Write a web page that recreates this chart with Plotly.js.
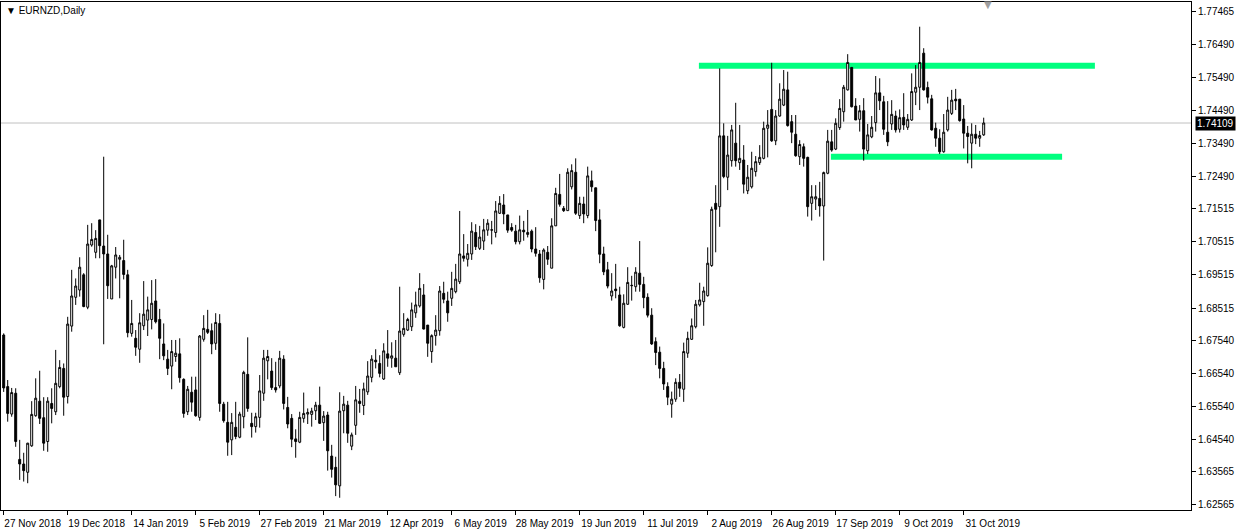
<!DOCTYPE html>
<html>
<head>
<meta charset="utf-8">
<script src="https://cdn.plot.ly/plotly-3.0.1.min.js"></script>
<style>html,body{margin:0;padding:0;background:#fff;}#chart{width:1238px;height:529px;}</style>
</head>
<body>
<div id="chart"></div>
<script>
// ---- data ----
const symbolTitle = "\u25BC EURNZD,Daily";
const firstDay = "2018-11-27";
const marketHolidays = ["2018-12-25", "2019-01-01"];
const barCount = 246;

const open = [
1.6770,1.6614,1.6531,1.6594,1.6394,1.6380,1.6355,1.6435,1.6526,1.6570,
1.6520,1.6448,1.6563,1.6538,1.6614,1.6669,1.6584,1.6797,1.6884,1.6906,
1.6952,1.6854,1.7042,1.7020,1.7118,1.7039,1.7015,1.6879,1.6975,1.6999,
1.6995,1.6952,1.6775,1.6760,1.6727,1.6798,1.6815,1.6817,1.6873,1.6817,
1.6743,1.6697,1.6676,1.6705,1.6713,1.6636,1.6538,1.6597,1.6604,1.6521,
1.6757,1.6787,1.6783,1.6745,1.6805,1.6561,1.6506,1.6453,1.6491,1.6461,
1.6523,1.6651,1.6503,1.6493,1.6521,1.6594,1.6692,1.6661,1.6611,1.6616,
1.6697,1.6551,1.6518,1.6456,1.6446,1.6518,1.6531,1.6530,1.6541,1.6558,
1.6505,1.6528,1.6404,1.6370,1.6314,1.6541,1.6558,1.6434,1.6497,1.6570,
1.6557,1.6598,1.6642,1.6694,1.6684,1.6637,1.6713,1.6700,1.6700,1.6656,
1.6772,1.6785,1.6795,1.6837,1.6858,1.6891,1.6800,1.6720,1.6768,1.6783,
1.6896,1.6873,1.6881,1.6901,1.6931,1.7009,1.6999,1.7015,1.7080,1.7032,
1.7054,1.7087,1.7087,1.7080,1.7138,1.7163,1.7133,1.7095,1.7084,1.7052,
1.7087,1.7074,1.7084,1.7030,1.7015,1.6938,1.7020,1.6972,1.7100,1.7195,
1.7153,1.7146,1.7218,1.7262,1.7131,1.7166,1.7131,1.7236,1.7215,1.7118,
1.7015,1.6967,1.6888,1.6909,1.6891,1.6793,1.6863,1.6919,1.6916,1.6957,
1.6923,1.6884,1.6830,1.6750,1.6718,1.6669,1.6614,1.6561,1.6576,1.6627,
1.6606,1.6715,1.6757,1.6795,1.6861,1.6871,1.6889,1.6980,1.7168,1.7158,
1.7372,1.7247,1.7297,1.7350,1.7291,1.7299,1.7206,1.7218,1.7264,1.7291,
1.7304,1.7395,1.7452,1.7357,1.7432,1.7465,1.7511,1.7415,1.7377,1.7309,
1.7339,1.7307,1.7168,1.7181,1.7183,1.7160,1.7259,1.7354,1.7332,1.7397,
1.7445,1.7511,1.7579,1.7462,1.7422,1.7448,1.7327,1.7369,1.7412,1.7502,
1.7475,1.7383,1.7408,1.7432,1.7392,1.7428,1.7398,1.7420,1.7504,1.7519,
1.7622,1.7518,1.7484,1.7395,1.7365,1.7324,1.7390,1.7440,1.7483,1.7483,
1.7423,1.7380,1.7350,1.7377,1.7365,1.7375
];
const high = [
1.6775,1.6634,1.6610,1.6609,1.6453,1.6414,1.6444,1.6570,1.6639,1.6662,
1.6582,1.6582,1.6609,1.6725,1.6694,1.6684,1.6825,1.6967,1.6941,1.7005,
1.6957,1.7103,1.7108,1.7087,1.7118,1.7309,1.7073,1.6982,1.7036,1.7012,
1.7058,1.6967,1.6876,1.6785,1.6836,1.6933,1.6886,1.6936,1.6939,1.6849,
1.6805,1.6725,1.6755,1.6755,1.6760,1.6639,1.6616,1.6644,1.6644,1.6770,
1.6830,1.6846,1.6805,1.6836,1.6833,1.6568,1.6568,1.6534,1.6568,1.6538,
1.6662,1.6763,1.6535,1.6535,1.6649,1.6725,1.6725,1.6700,1.6689,1.6722,
1.6709,1.6583,1.6531,1.6485,1.6538,1.6596,1.6548,1.6550,1.6568,1.6614,
1.6540,1.6538,1.6438,1.6402,1.6597,1.6586,1.6571,1.6475,1.6616,1.6607,
1.6626,1.6691,1.6709,1.6727,1.6709,1.6745,1.6785,1.6748,1.6755,1.6916,
1.6836,1.6822,1.6868,1.6901,1.6957,1.6924,1.6800,1.6772,1.6830,1.6918,
1.6931,1.6901,1.6961,1.6985,1.7145,1.7075,1.7045,1.7111,1.7105,1.7100,
1.7121,1.7120,1.7115,1.7175,1.7190,1.7196,1.7133,1.7108,1.7103,1.7131,
1.7115,1.7148,1.7089,1.7096,1.7027,1.7032,1.7039,1.7123,1.7215,1.7257,
1.7160,1.7274,1.7286,1.7304,1.7188,1.7188,1.7279,1.7267,1.7215,1.7150,
1.7037,1.6991,1.6957,1.6985,1.6916,1.6893,1.6975,1.6949,1.6975,1.7054,
1.6946,1.6896,1.6851,1.6763,1.6735,1.6689,1.6627,1.6599,1.6639,1.6652,
1.6747,1.6780,1.6820,1.6876,1.6928,1.6916,1.7035,1.7158,1.7223,1.7576,
1.7410,1.7372,1.7405,1.7472,1.7405,1.7344,1.7284,1.7324,1.7311,1.7344,
1.7415,1.7450,1.7593,1.7450,1.7531,1.7571,1.7566,1.7435,1.7435,1.7359,
1.7349,1.7309,1.7223,1.7223,1.7233,1.7264,1.7390,1.7390,1.7425,1.7483,
1.7526,1.7619,1.7579,1.7486,1.7465,1.7486,1.7408,1.7432,1.7553,1.7546,
1.7493,1.7477,1.7480,1.7448,1.7452,1.7501,1.7438,1.7561,1.7586,1.7702,
1.7637,1.7536,1.7496,1.7412,1.7392,1.7438,1.7490,1.7511,1.7514,1.7483,
1.7465,1.7402,1.7410,1.7405,1.7387,1.7427
];
const low = [
1.6598,1.6508,1.6523,1.6432,1.6332,1.6327,1.6322,1.6432,1.6523,1.6501,
1.6420,1.6417,1.6503,1.6528,1.6609,1.6526,1.6563,1.6780,1.6861,1.6886,
1.6854,1.6848,1.7037,1.7002,1.7002,1.6742,1.6879,1.6879,1.6941,1.6881,
1.6938,1.6763,1.6765,1.6707,1.6686,1.6785,1.6767,1.6787,1.6805,1.6697,
1.6694,1.6649,1.6606,1.6689,1.6626,1.6520,1.6528,1.6538,1.6523,1.6511,
1.6750,1.6773,1.6712,1.6725,1.6538,1.6505,1.6405,1.6407,1.6455,1.6458,
1.6488,1.6538,1.6460,1.6475,1.6490,1.6571,1.6636,1.6604,1.6596,1.6609,
1.6545,1.6488,1.6431,1.6399,1.6443,1.6505,1.6501,1.6493,1.6513,1.6501,
1.6450,1.6360,1.6339,1.6283,1.6278,1.6473,1.6444,1.6422,1.6468,1.6535,
1.6528,1.6589,1.6627,1.6669,1.6642,1.6634,1.6674,1.6671,1.6674,1.6649,
1.6765,1.6782,1.6782,1.6822,1.6853,1.6787,1.6704,1.6686,1.6738,1.6768,
1.6866,1.6810,1.6858,1.6896,1.6924,1.6992,1.6977,1.6997,1.7027,1.7027,
1.7027,1.7070,1.7044,1.7065,1.7136,1.7105,1.7079,1.7082,1.7044,1.7044,
1.7055,1.7065,1.7020,1.7007,1.6928,1.6908,1.6982,1.6972,1.7100,1.7158,
1.7142,1.7146,1.7210,1.7133,1.7121,1.7108,1.7123,1.7203,1.7084,1.6987,
1.6951,1.6911,1.6874,1.6881,1.6795,1.6790,1.6861,1.6874,1.6901,1.6901,
1.6851,1.6823,1.6740,1.6679,1.6639,1.6604,1.6558,1.6520,1.6568,1.6583,
1.6568,1.6701,1.6755,1.6790,1.6856,1.6798,1.6886,1.6976,1.7020,1.7097,
1.7244,1.7208,1.7279,1.7279,1.7269,1.7198,1.7196,1.7213,1.7249,1.7284,
1.7301,1.7307,1.7354,1.7344,1.7430,1.7462,1.7400,1.7350,1.7309,1.7284,
1.7279,1.7128,1.7116,1.7148,1.7128,1.6995,1.7256,1.7324,1.7329,1.7390,
1.7415,1.7509,1.7458,1.7420,1.7385,1.7297,1.7317,1.7365,1.7385,1.7450,
1.7375,1.7341,1.7390,1.7382,1.7382,1.7390,1.7390,1.7417,1.7465,1.7450,
1.7509,1.7470,1.7388,1.7339,1.7317,1.7321,1.7385,1.7435,1.7450,1.7415,
1.7334,1.7289,1.7274,1.7347,1.7339,1.7372
];
const close = [
1.6610,1.6533,1.6596,1.6448,1.6380,1.6360,1.6443,1.6530,1.6579,1.6518,
1.6443,1.6570,1.6548,1.6624,1.6672,1.6582,1.6803,1.6888,1.6918,1.6975,
1.6856,1.7045,1.7059,1.7062,1.7040,1.7015,1.6919,1.6979,1.7012,1.7005,
1.6953,1.6777,1.6805,1.6733,1.6807,1.6833,1.6846,1.6866,1.6810,1.6760,
1.6707,1.6669,1.6720,1.6715,1.6641,1.6533,1.6606,1.6567,1.6526,1.6767,
1.6790,1.6778,1.6743,1.6808,1.6563,1.6511,1.6446,1.6506,1.6463,1.6531,
1.6657,1.6548,1.6493,1.6523,1.6601,1.6700,1.6705,1.6611,1.6604,1.6700,
1.6563,1.6501,1.6455,1.6448,1.6521,1.6533,1.6536,1.6540,1.6558,1.6503,
1.6525,1.6420,1.6364,1.6317,1.6540,1.6561,1.6473,1.6468,1.6574,1.6563,
1.6607,1.6646,1.6697,1.6689,1.6654,1.6722,1.6700,1.6707,1.6674,1.6782,
1.6790,1.6817,1.6846,1.6861,1.6911,1.6788,1.6745,1.6768,1.6785,1.6903,
1.6878,1.6837,1.6911,1.6939,1.7015,1.7002,1.7017,1.7084,1.7037,1.7066,
1.7088,1.7108,1.7088,1.7145,1.7168,1.7136,1.7087,1.7087,1.7052,1.7088,
1.7082,1.7080,1.7030,1.7017,1.6943,1.7027,1.6999,1.7100,1.7198,1.7165,
1.7146,1.7262,1.7267,1.7138,1.7168,1.7136,1.7251,1.7218,1.7116,1.7014,
1.6961,1.6918,1.6903,1.6904,1.6798,1.6866,1.6929,1.6920,1.6960,1.6923,
1.6883,1.6830,1.6743,1.6717,1.6669,1.6622,1.6582,1.6576,1.6627,1.6609,
1.6720,1.6760,1.6798,1.6863,1.6876,1.6903,1.6987,1.7150,1.7150,1.7372,
1.7249,1.7314,1.7390,1.7297,1.7304,1.7226,1.7247,1.7274,1.7294,1.7307,
1.7395,1.7405,1.7357,1.7432,1.7483,1.7513,1.7403,1.7383,1.7312,1.7346,
1.7304,1.7158,1.7188,1.7188,1.7160,1.7261,1.7356,1.7329,1.7410,1.7455,
1.7519,1.7594,1.7460,1.7420,1.7448,1.7332,1.7375,1.7398,1.7502,1.7478,
1.7392,1.7354,1.7437,1.7390,1.7427,1.7405,1.7422,1.7506,1.7519,1.7594,
1.7511,1.7489,1.7390,1.7365,1.7324,1.7383,1.7450,1.7480,1.7478,1.7418,
1.7380,1.7370,1.7377,1.7365,1.7373,1.74109
];

const xTickLabels = ["27 Nov 2018","19 Dec 2018","14 Jan 2019","5 Feb 2019","27 Feb 2019","21 Mar 2019",
  "12 Apr 2019","6 May 2019","28 May 2019","19 Jun 2019","11 Jul 2019","2 Aug 2019",
  "26 Aug 2019","17 Sep 2019","9 Oct 2019","31 Oct 2019"];
const yTickValues = [1.77465,1.76490,1.75490,1.74490,1.73490,1.72490,1.71515,1.70515,
  1.69515,1.68515,1.67540,1.66540,1.65540,1.64540,1.63565,1.62565];
const lastPrice = 1.74109;
const resistanceLevel = 1.75841;
const supportLevel = 1.73090;

// ---- trading calendar (weekdays minus market holidays) ----
function tradingDays(start, count, holidays) {
  const out = [];
  const d = new Date(start + "T00:00:00Z");
  while (out.length < count) {
    const wd = d.getUTCDay();
    const s = d.toISOString().slice(0, 10);
    if (wd !== 0 && wd !== 6 && holidays.indexOf(s) < 0) out.push(s);
    d.setUTCDate(d.getUTCDate() + 1);
  }
  return out;
}
const dates = tradingDays(firstDay, barCount, marketHolidays);
const xTickDates = dates.filter((_, i) => i % 16 === 0);

const axisFont = {family: "Liberation Sans, Arial, sans-serif", size: 10, color: "#000"};

const trace = {
  type: "candlestick",
  x: dates, open: open, high: high, low: low, close: close,
  increasing: {line: {color: "#000", width: 1}, fillcolor: "#ffffff"},
  decreasing: {line: {color: "#000", width: 1}, fillcolor: "#000000"},
  whiskerwidth: 0,
  hoverinfo: "skip",
  showlegend: false
};

const layout = {
  width: 1238, height: 529,
  margin: {l: 1, r: 47, t: 2, b: 19, pad: 0},
  paper_bgcolor: "#ffffff", plot_bgcolor: "#ffffff",
  showlegend: false,
  xaxis: {
    type: "category",
    range: [-0.675, 296.825],
    rangeslider: {visible: false},
    showgrid: false, zeroline: false,
    showline: true, linecolor: "#000", linewidth: 1, mirror: true,
    ticks: "outside", ticklen: 4, tickcolor: "#000",
    tickvals: xTickDates, ticktext: xTickLabels,
    ticklabelshift: 29,
    tickfont: axisFont,
    fixedrange: true
  },
  yaxis: {
    side: "right",
    range: [1.62410, 1.77767],
    showgrid: false, zeroline: false,
    showline: true, linecolor: "#000", linewidth: 1, mirror: true,
    ticks: "outside", ticklen: 4, tickcolor: "#000",
    tickvals: yTickValues, tickformat: ".5f",
    tickfont: axisFont,
    fixedrange: true
  },
  shapes: [
    {type: "line", xref: "paper", x0: 0, x1: 1, yref: "y", y0: lastPrice, y1: lastPrice,
     line: {color: "#c0c0c0", width: 1}, layer: "below"},
    {type: "line", xref: "x", x0: 173.8, x1: 272.8, yref: "y", y0: resistanceLevel, y1: resistanceLevel,
     line: {color: "#00ff7f", width: 6}, layer: "below"},
    {type: "line", xref: "x", x0: 206.8, x1: 264.6, yref: "y", y0: supportLevel, y1: supportLevel,
     line: {color: "#00ff7f", width: 6}, layer: "below"}
  ],
  annotations: [
    {text: symbolTitle, xref: "paper", yref: "paper", x: 0, y: 1, xanchor: "left", yanchor: "middle",
     xshift: 3, yshift: -8, showarrow: false, font: {family: "Liberation Sans, Arial, sans-serif", size: 10, color: "#000"}},
    {text: "\u25BC", xref: "paper", yref: "paper", x: (988 - 1) / 1190, y: 1, xanchor: "center", yanchor: "middle",
     yshift: -2, showarrow: false, font: {family: "DejaVu Sans", size: 10, color: "#a0a0a0"}},
    {text: lastPrice.toFixed(5), xref: "paper", yref: "y", x: 1, y: lastPrice, xanchor: "left", yanchor: "middle",
     xshift: 4, showarrow: false, bgcolor: "#000000", borderpad: 1,
     font: {family: "Liberation Sans, Arial, sans-serif", size: 10, color: "#ffffff"}}
  ]
};

Plotly.newPlot("chart", [trace], layout, {staticPlot: true, displayModeBar: false});
</script>
</body>
</html>
